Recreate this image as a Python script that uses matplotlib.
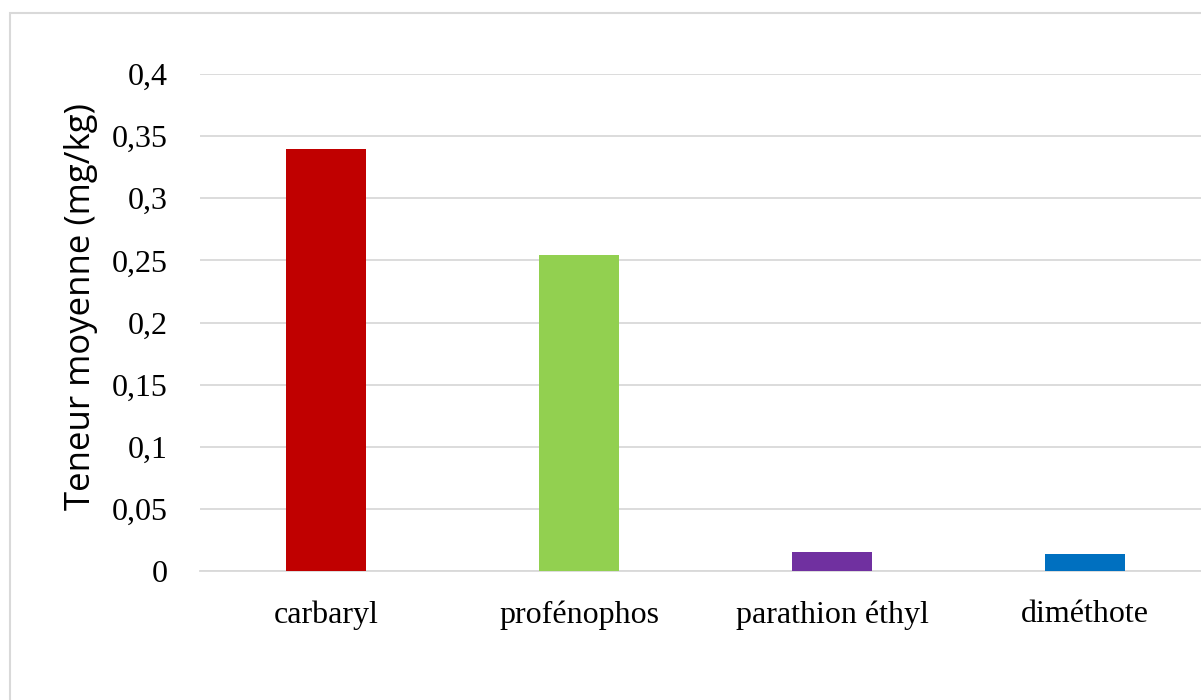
import matplotlib.pyplot as plt
import matplotlib.patches as patches
from matplotlib.ticker import FuncFormatter, MultipleLocator

# Teneur moyenne des pesticides (mg/kg)
categories = ["carbaryl", "profénophos", "parathion éthyl", "diméthote"]
values = [0.340, 0.254, 0.015, 0.0135]
colors = ["#C00000", "#92D050", "#7030A0", "#0070C0"]

W, H = 1201, 700
fig = plt.figure(figsize=(W / 100, H / 100), dpi=100)

# axes placed in pixels, right side runs past the picture edge like the original
left, right, bottom, top = 199.5, 1211.5, 571, 74
ax = fig.add_axes([left / W, (H - bottom) / H, (right - left) / W, (bottom - top) / H])

x = range(len(categories))
ax.bar(x, values, width=0.316, color=colors, zorder=3)

ax.set_xlim(-0.5, 3.5)
ax.set_ylim(0, 0.4)
ax.yaxis.set_major_locator(MultipleLocator(0.05))
ax.yaxis.set_major_formatter(FuncFormatter(lambda v, p: f"{v:.2f}".rstrip("0").rstrip(".").replace(".", ",") if v else "0"))
ax.grid(axis="y", color="#d9d9d9", linewidth=1.3, zorder=0)
ax.set_axisbelow(True)

for s in ["top", "right", "left"]:
    ax.spines[s].set_visible(False)
ax.spines["bottom"].set_color("#d9d9d9")
ax.spines["bottom"].set_linewidth(1.3)

ax.set_xticks(list(x))
ax.set_xticklabels(categories, fontfamily="Liberation Serif", fontsize=23)
for t in ax.get_yticklabels():
    t.set_fontfamily("Liberation Serif")
ax.tick_params(axis="y", length=0, pad=23, labelsize=23)
ax.tick_params(axis="x", length=0, pad=21)

ax.set_ylabel("Teneur moyenne (mg/kg)", fontfamily="Open Sans", fontsize=25)
ax.yaxis.set_label_coords((98 - left) / (right - left), (bottom - 307) / (bottom - top))

# light frame round the chart area
frame = patches.Rectangle((9.5 / W, -0.1), 1.2, (H - 12.5) / H + 0.1, transform=fig.transFigure,
                          fill=False, edgecolor="#d9d9d9", linewidth=1.5, clip_on=False)
fig.patches.append(frame)

fig.savefig("out.png", dpi=100)
